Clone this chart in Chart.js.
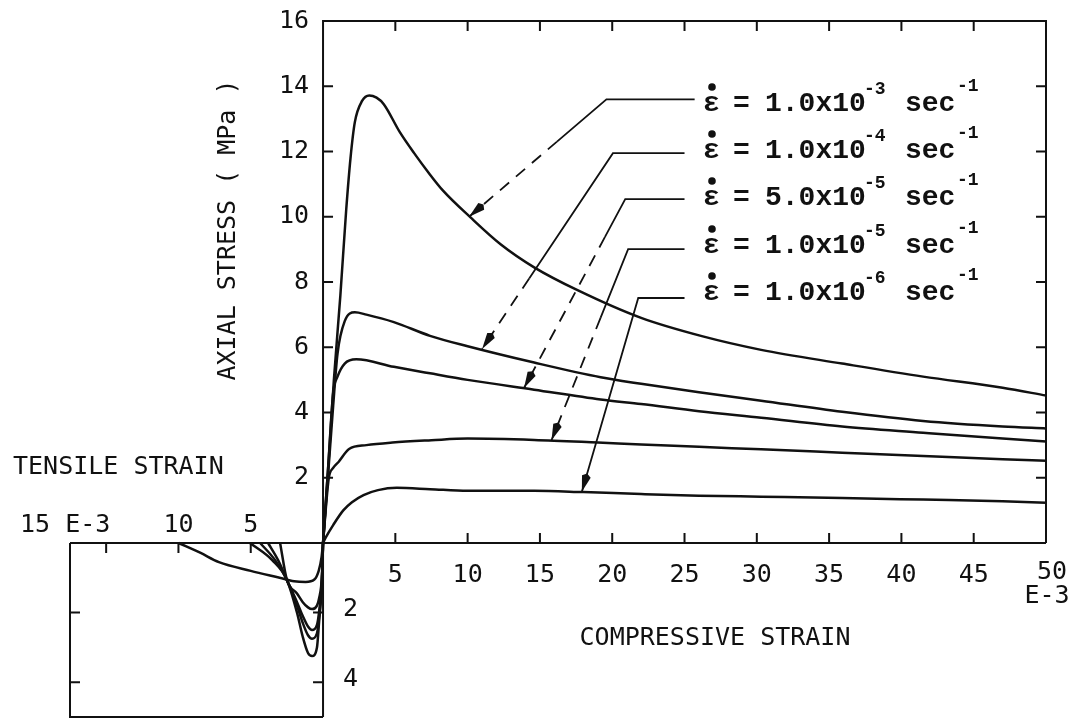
<!DOCTYPE html>
<html>
<head>
<meta charset="utf-8">
<script src="https://cdn.jsdelivr.net/npm/chart.js@4.4.1/dist/chart.umd.min.js"></script>
<style>
  body { margin: 0; background: #fff; }
  canvas { display: block; }
</style>
</head>
<body>
<canvas id="stressChart" width="1084" height="720"></canvas>
<script>
// compressive branch: strain (E-3) vs axial stress (MPa), one pair per strain rate
const strainA = [0, 0.4, 0.75, 1.2, 1.6, 1.9, 2.2, 2.7, 3.2, 3.7, 4.2, 5.3, 6.3, 7.3, 8.3, 10.2, 12.3, 14.6, 17.6, 22, 26.2, 30.3, 35.9, 41.5, 47, 50];
const stressA = [0, 2.6, 5.0, 7.6, 10.2, 11.8, 12.9, 13.55, 13.72, 13.65, 13.45, 12.6, 11.95, 11.35, 10.8, 9.98, 9.15, 8.45, 7.75, 6.9, 6.34, 5.92, 5.5, 5.1, 4.76, 4.52];
const strainB = [0, 0.4, 0.7, 1.0, 1.5, 2.2, 3.0, 4.9, 7.4, 10, 14.6, 19.2, 22, 26, 30.3, 35.9, 41.5, 47, 50];
const stressB = [0, 2.4, 4.2, 5.8, 6.8, 7.07, 7.0, 6.77, 6.35, 6.03, 5.53, 5.08, 4.88, 4.62, 4.36, 4.02, 3.74, 3.57, 3.51];
const strainC = [0, 0.35, 0.7, 1.0, 1.5, 2.3, 4.9, 7.4, 10, 14.6, 19.2, 22, 26, 30.3, 35.9, 41.5, 47, 50];
const stressC = [0, 2.3, 4.6, 5.1, 5.5, 5.63, 5.4, 5.2, 5.0, 4.7, 4.4, 4.26, 4.04, 3.84, 3.57, 3.38, 3.2, 3.11];
const strainD = [0, 0.2, 0.4, 0.7, 1.1, 1.8, 3.0, 4.8, 7.5, 10, 14.6, 19, 22, 26, 30.3, 35.9, 41.5, 47, 50];
const stressD = [0, 1.1, 2.0, 2.3, 2.5, 2.88, 3.0, 3.08, 3.15, 3.2, 3.16, 3.08, 3.02, 2.95, 2.87, 2.77, 2.67, 2.57, 2.52];
const strainE = [0, 0.2, 0.7, 1.4, 2.0, 2.8, 3.8, 5.1, 7.4, 10, 14.6, 18, 22, 26, 30.3, 35.9, 41.5, 47, 50];
const stressE = [0, 0.18, 0.55, 1.0, 1.25, 1.47, 1.62, 1.69, 1.65, 1.6, 1.6, 1.56, 1.5, 1.45, 1.42, 1.38, 1.33, 1.28, 1.23];

// tensile branch (lower-left box), same rates
const tStrainA = [0, 0.07, 0.28, 0.42, 0.76, 1.04, 1.4, 1.8, 2.5, 3.5, 5.05];
const tStressA = [0, 1.06, 2.3, 3.0, 3.25, 3.16, 2.7, 2.0, 1.06, 0.5, 0];
const tStrainB = [0, 0.07, 0.28, 0.42, 0.76, 1.04, 1.4, 1.8, 2.5, 3.3, 4.35];
const tStressB = [0, 1.0, 2.15, 2.6, 2.75, 2.65, 2.3, 1.8, 1.06, 0.5, 0];
const tStrainC = [0, 0.07, 0.28, 0.42, 0.76, 1.04, 1.4, 1.8, 2.5, 3.1, 3.8];
const tStressC = [0, 1.0, 2.0, 2.35, 2.5, 2.4, 2.1, 1.7, 1.06, 0.5, 0];
const tStrainD = [0, 0.07, 0.28, 0.42, 0.76, 1.04, 1.4, 1.8, 2.5, 2.97];
const tStressD = [0, 0.9, 1.6, 1.8, 1.9, 1.85, 1.7, 1.45, 1.06, 0];
const tStrainE = [0, 0.1, 0.3, 0.6, 1.2, 2.0, 3.0, 5.0, 7.2, 8.5, 10.0];
const tStressE = [0, 0.4, 0.8, 1.05, 1.12, 1.1, 1.0, 0.8, 0.55, 0.28, 0];

const rateMantissa = ['1.0x10', '1.0x10', '5.0x10', '1.0x10', '1.0x10'];
const rateExponent = ['-3', '-4', '-5', '-5', '-6'];

const xTickValues = [5, 10, 15, 20, 25, 30, 35, 40, 45];
const yTickValues = [2, 4, 6, 8, 10, 12, 14];
const yTickLabels = ['2', '4', '6', '8', '10', '12', '14', '16'];
const tensileXTicks = [5, 10];
const tensileYTicks = [2, 4];

// leader lines from each label to its curve (data units): elbow and arrow tip
const leaderStart = [25.7, 25.0, 25.0, 25.0, 25.0];
const leaderElbow = [[19.6, 13.6], [20.05, 11.95], [20.9, 10.54], [21.1, 9.01], [21.8, 7.51]];
const leaderTip = [[10.1, 10.0], [11.0, 5.95], [13.9, 4.75], [15.8, 3.15], [17.9, 1.57]];
const leaderSolidPart = [0.36, 0.64, 0.2, 0.36, 1];
const labelRowY = [102, 149, 196, 244, 291];

const ink = '#111';
const plotFont = '25px "DejaVu Sans Mono"';

function pts(xs, ys) {
  return xs.map((v, i) => ({ x: v, y: ys[i] }));
}

function curve(xs, ys, tensile) {
  return {
    data: pts(xs, ys),
    xAxisID: tensile ? 'xt' : 'x',
    yAxisID: tensile ? 'yt' : 'y',
    borderColor: ink,
    borderWidth: 2.5,
    pointRadius: 0,
    fill: false,
    cubicInterpolationMode: 'monotone',
    clip: false
  };
}

function arrowHead(ctx, fx, fy, tx, ty) {
  const len = Math.hypot(tx - fx, ty - fy);
  const dx = (tx - fx) / len, dy = (ty - fy) / len;
  const bx = tx - dx * 16, by = ty - dy * 16;
  ctx.beginPath();
  ctx.moveTo(tx, ty);
  ctx.lineTo(bx - dy * 4.5, by + dx * 4.5);
  ctx.lineTo(bx - dx * 3, by - dy * 3);
  ctx.lineTo(bx + dy * 4.5, by - dx * 4.5);
  ctx.closePath();
  ctx.fill();
}

const paperPlugin = {
  id: 'paper',
  afterDatasetsDraw(chart) {
    const { ctx, scales } = chart;
    const px = v => scales.x.getPixelForValue(v);
    const py = v => scales.y.getPixelForValue(v);
    const left = scales.xt.getPixelForValue(17.5), x0 = px(0), right = px(50);
    const top = py(16), y0 = py(0), bottom = scales.yt.getPixelForValue(5);

    ctx.save();
    ctx.strokeStyle = ink;
    ctx.fillStyle = ink;
    ctx.lineWidth = 2;

    // frames
    ctx.beginPath();
    ctx.moveTo(x0, bottom); ctx.lineTo(x0, top); ctx.lineTo(right, top); ctx.lineTo(right, y0);
    ctx.moveTo(left, y0); ctx.lineTo(right, y0);
    ctx.moveTo(left, y0); ctx.lineTo(left, bottom); ctx.lineTo(x0, bottom);
    ctx.stroke();

    // inward ticks
    const t = 10;
    ctx.beginPath();
    xTickValues.forEach(v => {
      const p = px(v);
      ctx.moveTo(p, y0); ctx.lineTo(p, y0 - t);
      ctx.moveTo(p, top); ctx.lineTo(p, top + t);
    });
    yTickValues.forEach(v => {
      const p = py(v);
      ctx.moveTo(x0, p); ctx.lineTo(x0 + t, p);
      ctx.moveTo(right, p); ctx.lineTo(right - t, p);
    });
    [5, 10, 15].forEach(v => {
      const p = scales.xt.getPixelForValue(v);
      ctx.moveTo(p, y0); ctx.lineTo(p, y0 + t);
    });
    tensileYTicks.forEach(v => {
      const p = scales.yt.getPixelForValue(v);
      ctx.moveTo(left, p); ctx.lineTo(left + t, p);
      ctx.moveTo(x0, p); ctx.lineTo(x0 - t, p);
    });
    ctx.stroke();

    // tick labels
    ctx.font = plotFont;
    ctx.textBaseline = 'middle';
    ctx.textAlign = 'center';
    xTickValues.forEach(v => ctx.fillText(String(v), px(v), y0 + 32));
    ctx.fillText('50', right + 6, y0 + 29);
    ctx.fillText('E-3', right + 1, y0 + 53);
    tensileXTicks.forEach(v => ctx.fillText(String(v), scales.xt.getPixelForValue(v), y0 - 18));
    ctx.textAlign = 'left';
    ctx.fillText('15 E-3', 20, y0 - 18);
    tensileYTicks.forEach(v => ctx.fillText(String(v), x0 + 20, scales.yt.getPixelForValue(v) - 3));
    ctx.textAlign = 'right';
    yTickLabels.forEach(s => ctx.fillText(s, x0 - 14, py(Number(s))));

    // axis titles
    ctx.textAlign = 'left';
    ctx.fillText('TENSILE STRAIN', 13, 467);
    ctx.textAlign = 'center';
    ctx.fillText('COMPRESSIVE STRAIN', 715, 638);
    ctx.save();
    ctx.translate(228, 230);
    ctx.rotate(-Math.PI / 2);
    ctx.fillText('AXIAL STRESS ( MPa )', 0, 0);
    ctx.restore();

    // strain-rate labels with leader lines
    ctx.lineWidth = 1.8;
    rateMantissa.forEach((m, i) => {
      const sx = px(leaderStart[i]);
      const ex = px(leaderElbow[i][0]), ey = py(leaderElbow[i][1]);
      const tx = px(leaderTip[i][0]), ty = py(leaderTip[i][1]);
      const f = leaderSolidPart[i];
      const mx = ex + (tx - ex) * f, my = ey + (ty - ey) * f;
      ctx.setLineDash([]);
      ctx.beginPath();
      ctx.moveTo(sx, ey); ctx.lineTo(ex, ey); ctx.lineTo(mx, my);
      ctx.stroke();
      if (f < 1) {
        ctx.setLineDash([12, 9]);
        ctx.beginPath();
        ctx.moveTo(mx, my); ctx.lineTo(tx, ty);
        ctx.stroke();
        ctx.setLineDash([]);
      }
      arrowHead(ctx, ex, ey, tx, ty);

      const cy = labelRowY[i];
      const base = cy + 9;
      ctx.textAlign = 'left';
      ctx.textBaseline = 'alphabetic';
      ctx.font = 'bold 28px "Liberation Mono"';
      ctx.fillText('\u03b5', 703, base);
      ctx.beginPath();
      ctx.arc(712, cy - 15, 3.8, 0, Math.PI * 2);
      ctx.fill();
      ctx.fillText('=', 733, base);
      ctx.fillText(m, 765, base);
      ctx.fillText('sec', 905, base);
      ctx.font = 'bold 18px "Liberation Mono"';
      ctx.fillText(rateExponent[i], 864, base - 17);
      ctx.fillText('-1', 957, base - 20);
    });
    ctx.restore();
  }
};

new Chart(document.getElementById('stressChart'), {
  type: 'line',
  data: {
    datasets: [
      curve(strainA, stressA), curve(strainB, stressB), curve(strainC, stressC),
      curve(strainD, stressD), curve(strainE, stressE),
      curve(tStrainA, tStressA, true), curve(tStrainB, tStressB, true), curve(tStrainC, tStressC, true),
      curve(tStrainD, tStressD, true), curve(tStrainE, tStressE, true)
    ]
  },
  options: {
    responsive: false,
    animation: false,
    devicePixelRatio: 1,
    layout: { padding: { left: 70, top: 21, right: 38, bottom: 3 } },
    plugins: { legend: { display: false }, tooltip: { enabled: false } },
    scales: {
      x: { type: 'linear', min: -17.5, max: 50, display: false },
      y: { type: 'linear', min: -16 / 3, max: 16, display: false },
      xt: { type: 'linear', min: -50, max: 17.5, reverse: true, display: false },
      yt: { type: 'linear', min: -15, max: 5, reverse: true, display: false }
    }
  },
  plugins: [paperPlugin]
});
</script>
</body>
</html>
